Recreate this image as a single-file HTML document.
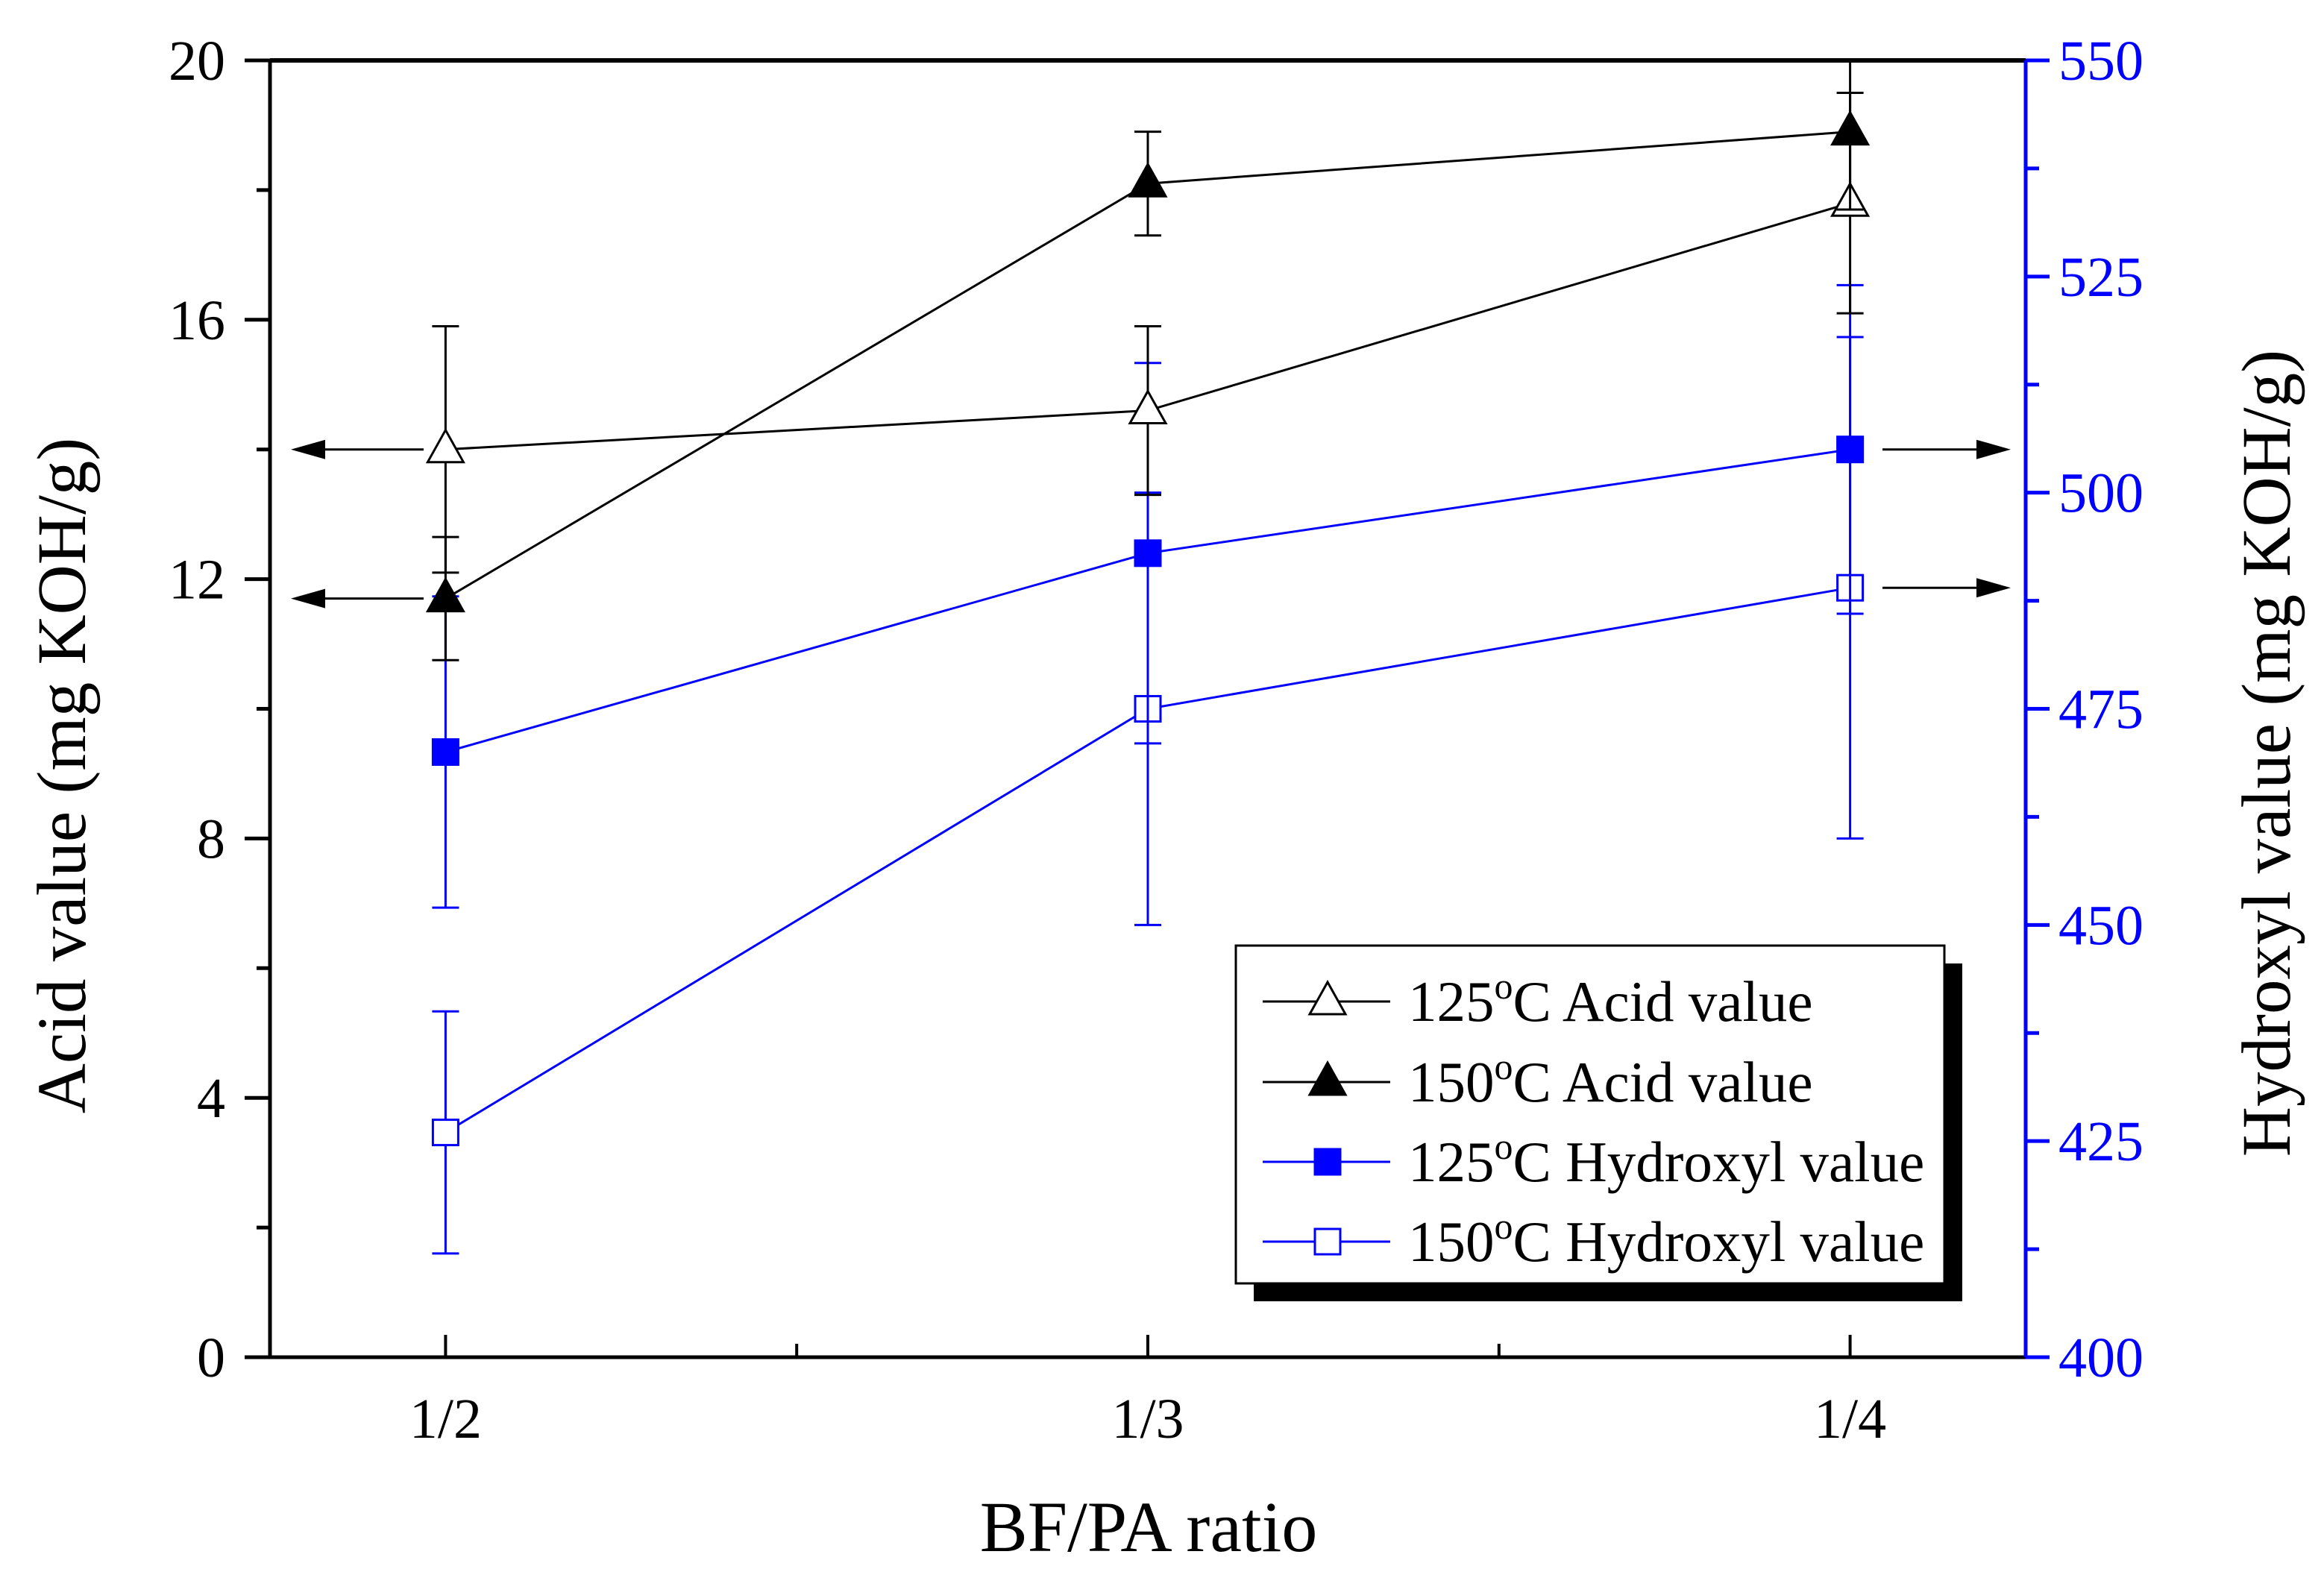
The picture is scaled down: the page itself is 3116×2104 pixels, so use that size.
<!DOCTYPE html>
<html><head><meta charset="utf-8"><style>
html,body{margin:0;padding:0;background:#fff;}
svg{display:block;font-family:"Liberation Serif",serif;}
</style></head><body>
<svg id="chart" width="3116" height="2104" viewBox="0 0 3116 2104" xmlns="http://www.w3.org/2000/svg">
<defs><clipPath id="pc"><rect x="362" y="81" width="2354" height="1739"/></clipPath></defs>
</svg>
<script>
const categories = ["1/2","1/3","1/4"];
const acid125 = [14.0, 14.6, 17.8];
const acid125Err = [1.9, 1.3, 1.7];
const acid150 = [11.7, 18.1, 18.9];
const acid150Err = [0.95, 0.8, 1.2];
const hyd125 = [470, 493, 505];
const hyd125Err = [18, 22, 19];
const hyd150 = [426, 475, 489];
const hyd150Err = [14, 25, 29];
const leftTicks = [0,4,8,12,16,20];
const rightTicks = [400,425,450,475,500,525,550];

const L=362,R=2716,T=81,B=1820;
const NS="http://www.w3.org/2000/svg";
const svg=document.getElementById('chart');
const xS=i=>L+(i+0.25)/2.5*(R-L);
const yL=v=>B-(v/20)*(B-T);
const yR=v=>B-((v-400)/150)*(B-T);
function el(tag,attrs,parent){const e=document.createElementNS(NS,tag);for(const k in attrs)e.setAttribute(k,attrs[k]);(parent||svg).appendChild(e);return e;}

for(let v=0;v<=20;v+=2){
  const major=v%4===0;
  const t=el('line',{x1:L,x2:L-(major?34:18),y1:yL(v),y2:yL(v),stroke:'#000','stroke-width':5});
  
  
}
leftTicks.forEach(v=>{
  const t=el('text',{x:302,y:yL(v)+26,'font-size':76,'text-anchor':'end',fill:'#000'});
  t.textContent=v;
  
  
});
for(let v=400;v<=550;v+=12.5){
  const major=(v%25)===0;
  const t=el('line',{x1:R,x2:R+(major?32:18),y1:yR(v),y2:yR(v),stroke:'#0000ff','stroke-width':5});
  
  
}
rightTicks.forEach(v=>{
  const t=el('text',{x:2760,y:yR(v)+26,'font-size':76,fill:'#0000ff'});
  t.textContent=v;
  
  
});
[0,0.5,1,1.5,2].forEach(i=>{
  const t=el('line',{x1:xS(i),x2:xS(i),y1:B,y2:B-(i%1===0?30:18),stroke:'#000','stroke-width':4});
  
  
});
categories.forEach((c,i)=>{
  const t=el('text',{x:xS(i),y:1928,'font-size':76,'text-anchor':'middle',fill:'#000'});
  t.textContent=c;
  
  
});
let a;
a=el('line',{x1:L,x2:R,y1:T,y2:T,stroke:'#000','stroke-width':6});


a=el('line',{x1:L,x2:R,y1:B,y2:B,stroke:'#000','stroke-width':5});


a=el('line',{x1:L,x2:L,y1:T,y2:B,stroke:'#000','stroke-width':5});


a=el('line',{x1:R,x2:R,y1:T,y2:B,stroke:'#0000ff','stroke-width':5});



let tt=el('text',{x:0,y:0,'font-size':93,'text-anchor':'middle',fill:'#000',transform:'translate(114,1040) rotate(-90)'});
tt.textContent='Acid value (mg KOH/g)';


tt=el('text',{x:0,y:0,'font-size':93,'text-anchor':'middle',fill:'#000',transform:'translate(3070,1010) rotate(-90)'});
tt.textContent='Hydroxyl value (mg KOH/g)';


tt=el('text',{x:1540,y:2080,'font-size':96,'text-anchor':'middle',fill:'#000'});
tt.textContent='BF/PA ratio';



const plot=el('g',{'clip-path':'url(#pc)'});



function marker(g,type,x,y,color){
  let m;
  if(type==='tri'||type==='trifill'){
    m=el('polygon',{points:`${x},${y-26} ${x-24},${y+17} ${x+24},${y+17}`,fill:type==='trifill'?color:'#fff',stroke:color,'stroke-width':3},g);
  } else {
    m=el('rect',{x:x-17,y:y-17,width:34,height:34,fill:type==='sqfill'?color:'#fff',stroke:color,'stroke-width':3},g);
  }
  
  
}
function series(name,vals,errs,ys,color,type){
  const g=el('g',{},plot);
  
  
  const pts=vals.map((v,i)=>`${xS(i)},${ys(v)}`).join(' ');
  const pl=el('polyline',{points:pts,fill:'none',stroke:color,'stroke-width':3},g);
  
  
  vals.forEach((v,i)=>{
    const x=xS(i),y1=ys(v+errs[i]),y2=ys(v-errs[i]);
    const eb=el('g',{stroke:color,'stroke-width':3},g);
    
    
    el('line',{x1:x,x2:x,y1:y1,y2:y2},eb);
    el('line',{x1:x-18,x2:x+18,y1:y1,y2:y1},eb);
    el('line',{x1:x-18,x2:x+18,y1:y2,y2:y2},eb);
  });
  vals.forEach((v,i)=>marker(g,type,xS(i),ys(v),color));
}
series('series-150-hydroxyl',hyd150,hyd150Err,yR,'#0000ff','sq');
series('series-125-hydroxyl',hyd125,hyd125Err,yR,'#0000ff','sqfill');
series('series-125-acid',acid125,acid125Err,yL,'#000','tri');
series('series-150-acid',acid150,acid150Err,yL,'#000','trifill');

function arrow(x1,x2,y){
  const g=el('g',{});
  
  
  const dir=x2>x1?1:-1;
  el('line',{x1:x1,x2:x2-dir*40,y1:y,y2:y,stroke:'#000','stroke-width':3},g);
  el('polygon',{points:`${x2},${y} ${x2-dir*46},${y-13} ${x2-dir*46},${y+13}`,fill:'#000'},g);
}
arrow(568,390,yL(acid125[0]));
arrow(568,390,yL(acid150[0]));
arrow(2524,2696,yR(hyd125[2]));
arrow(2524,2696,yR(hyd150[2]));

const lg=el('g',{});


el('rect',{x:1681,y:1292,width:950,height:453,fill:'#000'},lg);
el('rect',{x:1657,y:1268,width:950,height:453,fill:'#fff',stroke:'#000','stroke-width':3},lg);
const legItems=[['125','Acid value','#000','tri'],['150','Acid value','#000','trifill'],['125','Hydroxyl value','#0000ff','sqfill'],['150','Hydroxyl value','#0000ff','sq']];
const legY=[1343,1451,1558,1665];
legItems.forEach((it,k)=>{
  const g=el('g',{},lg);
  
  
  el('line',{x1:1693,x2:1864,y1:legY[k],y2:legY[k],stroke:it[2],'stroke-width':3},g);
  marker(g,it[3],1780,legY[k],it[2]);
  const t=el('text',{x:1888,y:legY[k]+26,'font-size':77,fill:'#000'},g);
  t.innerHTML=`${it[0]}<tspan dy="-30" font-size="50">o</tspan><tspan dy="30">C ${it[1]}</tspan>`;
});
</script>
</body></html>
